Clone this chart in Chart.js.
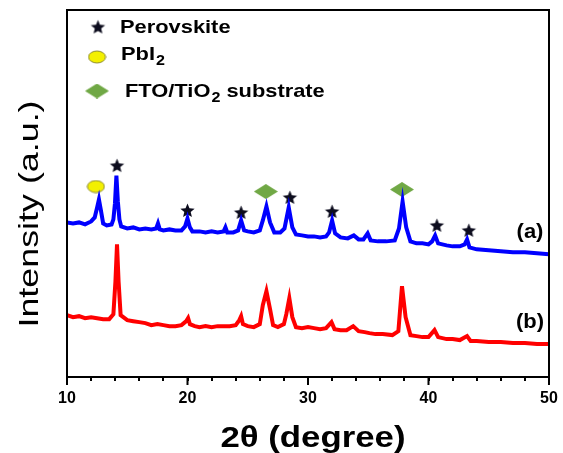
<!DOCTYPE html>
<html><head><meta charset="utf-8">
<script src="https://cdn.jsdelivr.net/npm/chart.js@4.4.1/dist/chart.umd.min.js"></script>
<style>html,body{margin:0;padding:0;background:#fff}#wrap{width:563px;height:453px;position:relative}</style>
</head><body><div id="wrap"><canvas id="c" width="563" height="453"></canvas></div>
<script>
// ---- data (2θ in degrees, intensity in arbitrary units) ----
const twoThetaA = [
 10,10.5,11,11.5,12,12.3,12.5,12.65,12.8,13,
 13.3,13.7,13.85,13.98,14.1,14.22,14.35,14.5,15,15.5,16,16.5,
 17,17.4,17.55,17.7,18,18.5,19,19.5,19.8,20,
 20.2,20.4,21,21.5,22,22.5,23,23.15,23.3,23.8,
 24.2,24.45,24.7,25,25.5,26,26.25,26.55,26.85,27.2,
 27.7,28.05,28.4,28.7,29,29.5,30,30.5,31,31.5,
 31.75,32,32.25,32.7,33.3,33.8,34.2,34.6,34.95,35.2,
 35.8,36.5,37.2,37.55,37.85,38.15,38.5,39,39.5,40,
 40.3,40.55,40.8,41.5,42,42.6,43,43.2,43.4,44,
 45,46,47,48,49,50];
const intensityA = [
 155,154,155,153,156,160,170,178,168,154,
 152,153,158,174,202,176,158,151,149,150,148,149,
 148,149,154,148,147,148,147,147,151,159,
 150,146,146,145,146,145,146,150,145,145,
 147,157,147,146,145,147,157,171,155,145,
 145,149,170,150,143,142,141,141,140,141,
 145,157,144,140,139,142,138,138,144,137,
 136,136,137,149,176,150,136,134,134,133,
 136,142,134,132,131,131,133,138,130,128,
 127,126,125,125,124,123];
const twoThetaB = [
 10,10.5,11,11.5,12,12.5,13,13.5,13.85,14.02,
 14.15,14.28,14.45,15,15.5,16,16.5,17,17.5,18,
 18.5,19,19.5,19.9,20.05,20.2,20.6,21,21.5,22,
 22.5,23,23.5,24,24.3,24.45,24.6,25,25.5,26,
 26.25,26.55,26.85,27.1,27.5,28,28.2,28.45,28.7,29,
 29.5,30,30.5,31,31.5,31.95,32.2,32.7,33.2,33.75,
 34.2,34.7,35.1,35.6,36.2,37,37.5,37.8,38.1,38.5,
 39,39.5,40,40.5,40.8,41.5,42,42.6,43.2,43.5,
 44,45,46,47,48,49,50];
const intensityB = [
 62,60,61,59,60,59,58,58,63,96,
 133,96,62,57,56,55,54,52,53,52,
 51,51,52,56,59,53,51,50,51,50,
 51,51,51,52,57,61,53,51,50,53,
 72,86,68,52,50,53,63,79,60,50,
 49,50,49,48,49,55,48,47,47,51,
 46,45,44,43,43,42,46,91,60,42,
 41,40,40,47,40,38,38,37,41,36,
 36,35,35,34,34,33,33];
// peak markers
const perovskiteX = [14.15, 20.0, 24.45, 28.5, 32.0, 40.7, 43.35];
const perovskiteY = [212, 167, 165, 180, 166, 152, 147];
const pbi2X = [12.4];
const pbi2Y = [191];
const ftoX = [26.5, 37.8];
const ftoY = [186, 188];
const xTickLabels = [10, 20, 30, 40, 50];
const legendLabels = ['Perovskite', 'PbI', 'FTO/TiO', ' substrate'];
const xTitle = '2θ (degree)';
const yTitle = 'Intensity (a.u.)';

const F = '"Liberation Sans", Arial, sans-serif';

function makeStar(r, color){
  const s = Math.ceil(r*2+2), c = document.createElement('canvas');
  c.width = s; c.height = s;
  const g = c.getContext('2d'); g.translate(s/2, s/2+0.5); g.beginPath();
  for (let i=0;i<10;i++){ const rr = i%2 ? r*0.45 : r; const a = -Math.PI/2 + i*Math.PI/5; g.lineTo(rr*Math.cos(a), rr*Math.sin(a)); }
  g.closePath(); g.fillStyle = color; g.fill(); return c;
}
function makeEllipse(w, h, fill, stroke){
  const c = document.createElement('canvas'); c.width = w+2; c.height = h+2;
  const g = c.getContext('2d'); g.beginPath(); g.ellipse((w+2)/2,(h+2)/2,w/2,h/2,0,0,Math.PI*2);
  g.fillStyle = fill; g.fill(); g.lineWidth = 1; g.strokeStyle = stroke; g.stroke(); return c;
}
function makeDiamond(w, h, fill){
  const c = document.createElement('canvas'); c.width = w; c.height = h;
  const g = c.getContext('2d'); g.beginPath(); g.moveTo(w/2,0); g.lineTo(w,h/2); g.lineTo(w/2,h); g.lineTo(0,h/2); g.closePath();
  g.fillStyle = fill; g.fill(); return c;
}
const starImg = makeStar(7.5, '#0d0d1e');
const ellImg = makeEllipse(17, 12, '#f3f000', '#8c8a2a');
const diaImg = makeDiamond(24, 15, '#70a845');

function pts(xs, ys){ return xs.map((x,i)=>({x, y: ys[i]})); }

function stretchText(ctx, text, x, y, sx, rot){
  ctx.save(); ctx.translate(x, y); if (rot) ctx.rotate(rot); ctx.scale(sx, 1); ctx.fillText(text, 0, 0); ctx.restore();
  return ctx.measureText(text).width * sx;
}

const decor = {
  id: 'decor',
  afterDraw(chart){
    const ctx = chart.ctx, a = chart.chartArea, xs = chart.scales.x;
    ctx.save();
    ctx.strokeStyle = '#000'; ctx.lineWidth = 2;
    ctx.strokeRect(a.left, a.top, a.right - a.left, a.bottom - a.top);
    xTickLabels.forEach(v => { const px = xs.getPixelForValue(v); ctx.beginPath(); ctx.moveTo(px, a.bottom); ctx.lineTo(px, a.bottom + 8); ctx.stroke(); });
    ctx.fillStyle = '#000';
    // axis titles
    ctx.textAlign = 'center'; ctx.textBaseline = 'middle';
    ctx.font = 'bold 30px ' + F;
    stretchText(ctx, xTitle, (a.left + a.right) / 2 + 5, 439, 1.16);
    ctx.font = '28px ' + F;
    stretchText(ctx, yTitle, 30, 214, 1.28, -Math.PI/2);
    // legend
    const L = a.left, T = a.top;
    ctx.textBaseline = 'middle'; ctx.textAlign = 'left';
    ctx.drawImage(starImg, L + 31 - starImg.width/2, T + 17 - starImg.height/2);
    ctx.font = 'bold 19px ' + F;
    stretchText(ctx, legendLabels[0], L + 53, T + 18, 1.15);
    ctx.drawImage(ellImg, L + 30 - ellImg.width/2, T + 47 - ellImg.height/2);
    let w = stretchText(ctx, legendLabels[1], L + 54, T + 45, 1.15);
    ctx.font = 'bold 14px ' + F;
    stretchText(ctx, '2', L + 54 + w + 1, T + 51, 1.15);
    ctx.drawImage(diaImg, L + 30 - diaImg.width/2, T + 81 - diaImg.height/2);
    ctx.font = 'bold 19px ' + F;
    w = stretchText(ctx, legendLabels[2], L + 58, T + 82, 1.15);
    ctx.font = 'bold 14px ' + F;
    const w2 = stretchText(ctx, '2', L + 58 + w + 1, T + 88, 1.15);
    ctx.font = 'bold 19px ' + F;
    stretchText(ctx, legendLabels[3], L + 58 + w + w2 + 1, T + 82, 1.15);
    // series labels
    ctx.font = 'bold 20px ' + F; ctx.textAlign = 'center';
    const ys = chart.scales.y;
    stretchText(ctx, '(a)', a.right - 19, ys.getPixelForValue(145), 1.1);
    stretchText(ctx, '(b)', a.right - 19, ys.getPixelForValue(55), 1.1);
    ctx.restore();
  }
};

new Chart(document.getElementById('c'), {
  type: 'line',
  data: {
    datasets: [
      { label: '(a)', data: pts(twoThetaA, intensityA), borderColor: '#0000ff', borderWidth: 4, pointRadius: 0, tension: 0, fill: false },
      { label: '(b)', data: pts(twoThetaB, intensityB), borderColor: '#ff0000', borderWidth: 4, pointRadius: 0, tension: 0, fill: false },
      { label: 'Perovskite', data: pts(perovskiteX, perovskiteY), showLine: false, pointStyle: starImg, pointRadius: 8 },
      { label: 'PbI2', data: pts(pbi2X, pbi2Y), showLine: false, pointStyle: ellImg, pointRadius: 8 },
      { label: 'FTO/TiO2 substrate', data: pts(ftoX, ftoY), showLine: false, pointStyle: diaImg, pointRadius: 8 }
    ]
  },
  options: {
    responsive: false, animation: false, devicePixelRatio: 1,
    layout: { padding: { left: 0, right: 14, top: 10, bottom: 0 } },
    plugins: { legend: { display: false }, tooltip: { enabled: false } },
    scales: {
      x: {
        type: 'linear', min: 10, max: 50,
        ticks: { stepSize: 2, autoSkip: false, maxRotation: 0, padding: 8, color: '#000',
                 font: { family: F, size: 16, weight: 'bold' },
                 callback: v => xTickLabels.includes(v) ? String(v) : '' },
        grid: { drawOnChartArea: false, tickLength: 4, color: '#000', lineWidth: 2 },
        border: { display: true, color: '#000', width: 2 },
        title: { display: false, text: xTitle },
        afterFit(s){ s.height = 76; s.paddingRight = 0; s.paddingLeft = 0; }
      },
      y: {
        min: 0, max: 368,
        ticks: { display: false },
        grid: { display: false },
        border: { display: true, color: '#000', width: 2 },
        title: { display: false, text: yTitle },
        afterFit(s){ s.width = 67; }
      }
    }
  },
  plugins: [decor]
});
</script>
</body></html>
